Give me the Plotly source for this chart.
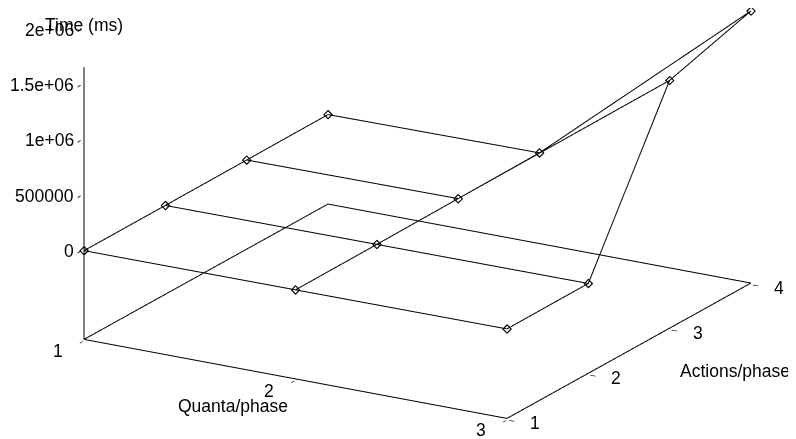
import math
import plotly.graph_objects as go

# ---- data ----
quanta = [1, 2, 3]                 # x: Quanta/phase
actions = [1, 2, 3, 4]             # y: Actions/phase
# time[i_action][i_quanta]  (ms)
time_ms = [
    [2000, 5000, 9000],            # actions = 1
    [3000, 8000, 12000],           # actions = 2
    [6000, 14000, 1440000],        # actions = 3
    [9000, 20000, 1660000],        # actions = 4
]
z_ticks = [0, 500000, 1000000, 1500000, 2000000]
z_tick_text = ["0", "500000", "1e+06", "1.5e+06", "2e+06"]
x_ticks = [1, 2, 3]
y_ticks = [1, 2, 3, 4]

# ---- style / geometry ----
FONT = "Liberation Sans, Arial, sans-serif"
FS = 17.5
z_floor = -800000
z_top = 2000000
x_rng = [min(quanta), max(quanta)]
y_rng = [min(actions), max(actions)]
ex, ey, ez = 0.01, 0.015, 14000   # tiny padding so frame lines are not clipped

fig = go.Figure()

LINE = dict(color="black", width=2)
# wireframe: rows (constant actions)
for j, a in enumerate(actions):
    fig.add_trace(go.Scatter3d(
        x=quanta, y=[a] * len(quanta), z=time_ms[j],
        mode="lines+markers", line=LINE,
        marker=dict(symbol="diamond-open", size=3, color="black",
                    line=dict(color="black", width=1)),
        showlegend=False, hoverinfo="skip"))
# wireframe: columns (constant quanta)
for i, q in enumerate(quanta):
    fig.add_trace(go.Scatter3d(
        x=[q] * len(actions), y=actions, z=[row[i] for row in time_ms],
        mode="lines", line=LINE, showlegend=False, hoverinfo="skip"))

# base frame and vertical z axis line
z_line_top = max(max(r) for r in time_ms)
fig.add_trace(go.Scatter3d(
    x=[x_rng[0], x_rng[1], x_rng[1], x_rng[0], x_rng[0], x_rng[0]],
    y=[y_rng[0], y_rng[0], y_rng[1], y_rng[1], y_rng[0], y_rng[0]],
    z=[z_floor, z_floor, z_floor, z_floor, z_floor, z_line_top],
    mode="lines", line=LINE, showlegend=False, hoverinfo="skip"))

phi = math.radians(-59.87)
theta = math.radians(18.78)
k = 4.0
d = (math.cos(theta) * math.cos(phi), math.cos(theta) * math.sin(phi), math.sin(theta))
c = (0.0072, -0.1165, -0.3068)
eye = dict(x=c[0] + k * d[0], y=c[1] + k * d[1], z=c[2] + k * d[2])
center = dict(x=c[0], y=c[1], z=c[2])
scale = 2.25

ax_common = dict(showgrid=False, zeroline=False, showbackground=False,
                 showspikes=False, showline=False, ticks="inside", ticklen=6,
                 tickwidth=2, tickcolor="black", showticklabels=False,
                 title=dict(text=""))

tf = dict(family=FONT, size=FS, color="black")
ann = []
for v in x_ticks:
    ann.append(dict(x=v, y=y_rng[0], z=z_floor, text=str(v), showarrow=False,
                    xanchor="center", yanchor="middle", xshift=-26, yshift=-12, font=tf))
for v in y_ticks:
    ann.append(dict(x=x_rng[1], y=v, z=z_floor, text=str(v), showarrow=False,
                    xanchor="center", yanchor="middle", xshift=28, yshift=-5, font=tf))
for v, t in zip(z_ticks, z_tick_text):
    ann.append(dict(x=x_rng[0], y=y_rng[0], z=v, text=t, showarrow=False,
                    xanchor="right", yanchor="middle", xshift=-8, yshift=0, font=tf))
ann += [
    dict(x=2, y=y_rng[0], z=z_floor, text="Quanta/phase", showarrow=False,
         xanchor="center", yanchor="middle", xshift=-62, yshift=-27, font=tf),
    dict(x=x_rng[1], y=3, z=z_floor, text="Actions/phase", showarrow=False,
         xanchor="center", yanchor="middle", xshift=65, yshift=-43, font=tf),
    dict(x=x_rng[0], y=y_rng[0], z=z_top, text="Time (ms)", showarrow=False,
         xanchor="center", yanchor="middle", xshift=0, yshift=5, font=tf),
]

fig.update_layout(
    width=796, height=439,
    margin=dict(l=0, r=0, t=0, b=0),
    paper_bgcolor="white",
    font=dict(family=FONT, size=FS, color="black"),
    scene=dict(
        domain=dict(x=[0, 1], y=[0, 1]),
        xaxis=dict(range=[x_rng[0] - ex, x_rng[1] + ex], tickvals=x_ticks, **ax_common),
        yaxis=dict(range=[y_rng[0] - ey, y_rng[1] + ey], tickvals=y_ticks, **ax_common),
        zaxis=dict(range=[z_floor - ez, z_top + ez], tickvals=z_ticks, **ax_common),
        aspectmode="manual",
        aspectratio=dict(x=1 * scale, y=0.994 * scale, z=0.669 * scale),
        camera=dict(eye=eye, up=dict(x=0, y=0, z=1), center=center,
                    projection=dict(type="orthographic")),
        bgcolor="white",
        annotations=ann,
    ),
)

fig.write_html("out.html", config={"displayModeBar": False})
